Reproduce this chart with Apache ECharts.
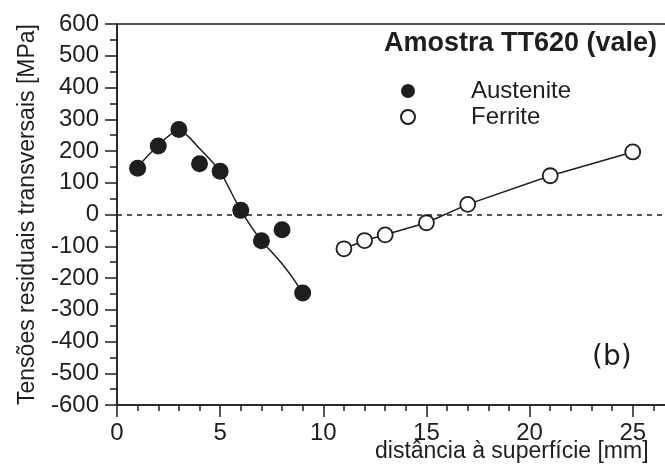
<!DOCTYPE html>
<html>
<head>
<meta charset="utf-8">
<script src="https://cdn.jsdelivr.net/npm/echarts@6/dist/echarts.min.js"></script>
<style>
html,body{margin:0;padding:0;background:#fff;}
#chart{width:665px;height:466px;}
</style>
</head>
<body>
<div id="chart"></div>
<script>
// Data
var austeniteX = [1, 2, 3, 4, 5, 6, 7, 8, 9];
var austeniteY = [146, 216, 268, 160, 136, 13, -83, -48, -247];
var austeniteFitX = [1, 2, 3, 3.5, 4, 4.5, 5, 6, 7, 7.5, 8, 8.5, 9];
var austeniteFitY = [150, 218, 266, 243, 208, 174, 136, 13, -83, -118, -155, -198, -247];
var ferriteX = [11, 12, 13, 15, 17, 21, 25];
var ferriteY = [-108, -82, -64, -26, 32, 122, 197];
var xTicks = [0, 5, 10, 15, 20, 25];
var yTicks = [-600, -500, -400, -300, -200, -100, 0, 100, 200, 300, 400, 500, 600];

function zip(a, b) { return a.map(function (v, i) { return [v, b[i]]; }); }

var ink = '#1e1e1e';
var font = 'Liberation Sans, Arial, sans-serif';
var chart = echarts.init(document.getElementById('chart'), null, {renderer: 'canvas'});
chart.setOption({
  animation: false,
  backgroundColor: '#fff',
  title: {
    text: 'Amostra TT620 (vale)',
    right: 8, top: 30, padding: 0,
    textStyle: {fontFamily: font, fontWeight: 'bold', fontSize: 27, color: ink}
  },
  legend: {
    data: ['Austenite', 'Ferrite'],
    orient: 'vertical',
    left: 395, top: 74,
    itemGap: 2,
    itemWidth: 14, itemHeight: 14,
    textStyle: {fontFamily: font, fontSize: 24, color: ink, padding: [0, 0, 0, 51]}
  },
  graphic: [{
    type: 'text',
    left: 592, top: 344,
    style: {text: '(b)', font: '28px "DejaVu Sans"', fill: ink}
  }],
  grid: {
    left: 117, right: -9, top: 24, bottom: 61,
    containLabel: false, outerBoundsMode: 'none',
    show: true, borderColor: ink, borderWidth: 1.5, backgroundColor: 'transparent'
  },
  xAxis: {
    type: 'value', min: 0, max: 27, interval: 5,
    name: 'distância à superfície [mm]',
    nameLocation: 'end', nameGap: -299, nameMoveOverlap: false,
    nameTextStyle: {fontFamily: font, fontSize: 23, color: ink, verticalAlign: 'top', padding: [35, 0, 0, 0]},
    axisLine: {show: true, onZero: false, lineStyle: {color: ink, width: 1.5}},
    axisTick: {show: true, inside: false, length: 12, lineStyle: {color: ink, width: 1.5}},
    minorTick: {show: true, splitNumber: 5, length: 6, lineStyle: {color: ink, width: 1.5}},
    splitLine: {show: false},
    axisLabel: {
      fontFamily: font, fontSize: 24, color: ink, margin: 16,
      formatter: function (v) { return xTicks.indexOf(v) >= 0 ? String(v) : ''; }
    }
  },
  yAxis: {
    type: 'value', min: -600, max: 600, interval: 100,
    name: 'Tensões residuais transversais [MPa]',
    nameLocation: 'middle', nameGap: 78, nameMoveOverlap: false,
    nameTextStyle: {fontFamily: font, fontSize: 23, color: ink},
    axisLine: {show: true, onZero: false, lineStyle: {color: ink, width: 1.5}},
    axisTick: {show: true, inside: false, length: 12, lineStyle: {color: ink, width: 1.5}},
    minorTick: {show: true, splitNumber: 2, length: 7, lineStyle: {color: ink, width: 1.5}},
    splitLine: {show: false},
    axisLabel: {
      fontFamily: font, fontSize: 24, color: ink, margin: 18,
      formatter: function (v) { return yTicks.indexOf(v) >= 0 ? String(v) : ''; }
    }
  },
  series: [
    {
      name: 'AusteniteFit', type: 'line', data: zip(austeniteFitX, austeniteFitY),
      smooth: 0.25, showSymbol: false, silent: true,
      lineStyle: {color: ink, width: 1.5}, z: 2,
      markLine: {
        silent: true, symbol: 'none', label: {show: false},
        lineStyle: {color: ink, width: 1.5, type: [5, 5]},
        data: [{yAxis: 0}]
      }
    },
    {
      name: 'FerriteFit', type: 'line', data: zip(ferriteX, ferriteY),
      showSymbol: false, silent: true,
      lineStyle: {color: ink, width: 1.5}, z: 2
    },
    {
      name: 'Austenite', type: 'scatter', data: zip(austeniteX, austeniteY),
      symbol: 'circle', symbolSize: 17,
      itemStyle: {color: ink, opacity: 1}, z: 3
    },
    {
      name: 'Ferrite', type: 'scatter', data: zip(ferriteX, ferriteY),
      symbol: 'circle', symbolSize: 15,
      itemStyle: {color: '#fff', borderColor: ink, borderWidth: 1.8, opacity: 1}, z: 3
    }
  ]
});
</script>
</body>
</html>
